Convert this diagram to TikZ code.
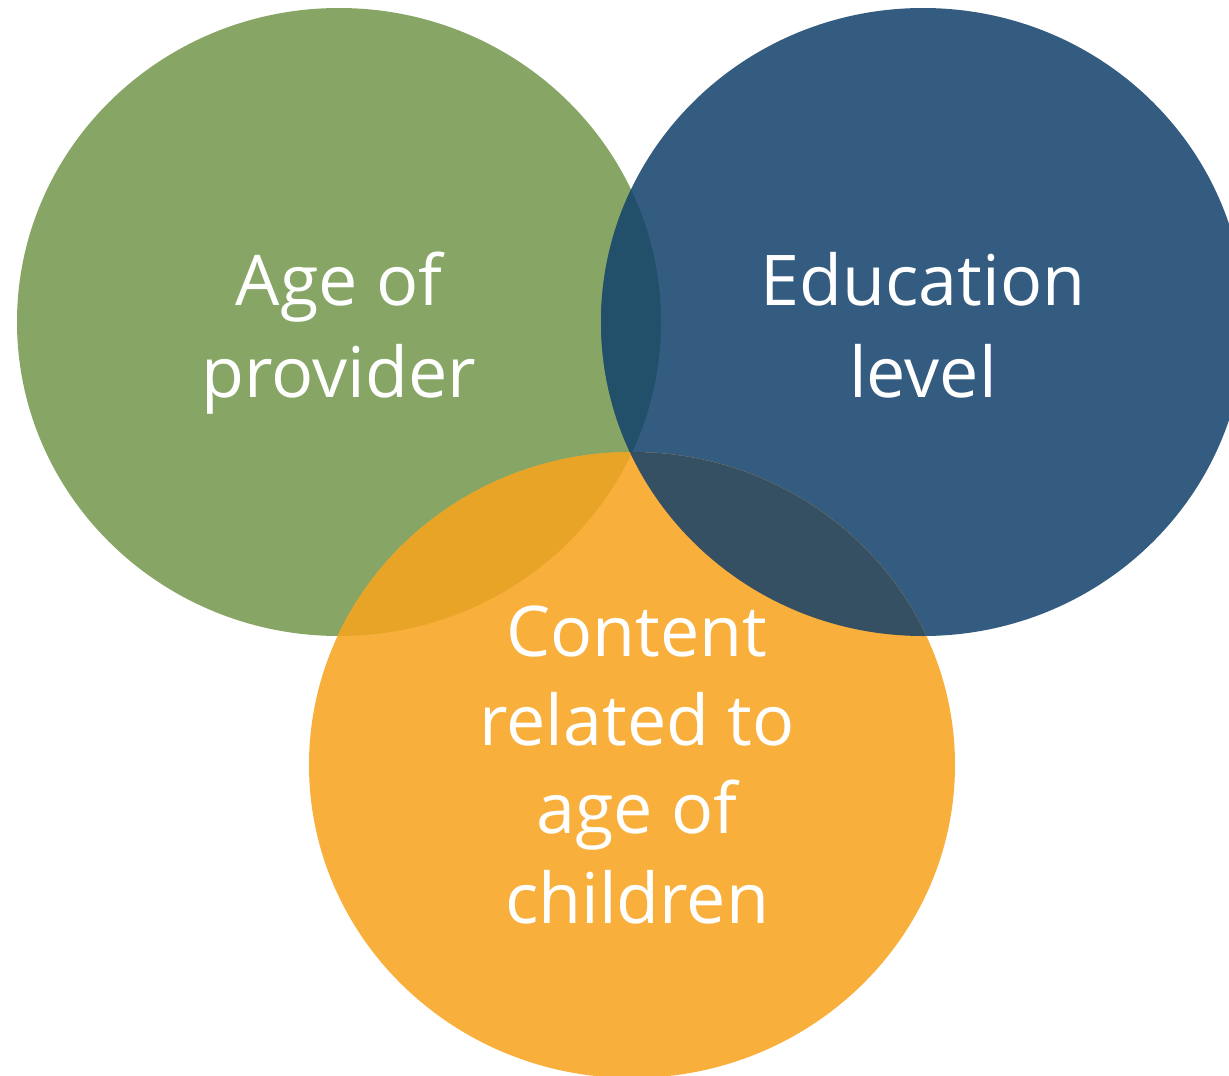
\documentclass[tikz,border=0pt]{standalone}
\usepackage{fontspec}
\setmainfont{Open Sans}
\definecolor{cgreen}{HTML}{87A665}
\definecolor{cblue}{HTML}{335C80}
\definecolor{corange}{HTML}{F8AF3C}
\definecolor{cgb}{HTML}{224F6A}
\definecolor{cgo}{HTML}{E8A427}
\definecolor{cbo}{HTML}{354F63}
\begin{document}
\begin{tikzpicture}[x=1pt,y=-1pt,
  lbl/.style={text=white,inner sep=0pt,anchor=base,font=\fontsize{70}{90}\selectfont}]
\useasboundingbox (0,0) rectangle (1229,1076);
\clip (0,0) rectangle (1229,1076);
\def\green{(339,322) ellipse [x radius=322, y radius=314]}
\def\blue{(923,322) ellipse [x radius=322, y radius=314]}
\def\orange{(632,765) ellipse [x radius=323, y radius=313]}
\fill[cgreen] \green;
\fill[cblue] \blue;
\fill[corange] \orange;
\begin{scope}
  \clip \green;
  \fill[cgb] \blue;
  \fill[cgo] \orange;
\end{scope}
\begin{scope}
  \clip \blue;
  \fill[cbo] \orange;
\end{scope}
\node[lbl] (a1) at (339,305) {Age of};
\node[lbl] (a2) at (339,397) {provider};
\node[lbl] (e1) at (923,305) {Education};
\node[lbl] (e2) at (923,397) {level};
\node[lbl] (c1) at (637,656) {Content};
\node[lbl] (c2) at (637,745) {related to};
\node[lbl] (c3) at (637,833) {age of};
\node[lbl] (c4) at (637,923) {children};
\end{tikzpicture}
\end{document}
